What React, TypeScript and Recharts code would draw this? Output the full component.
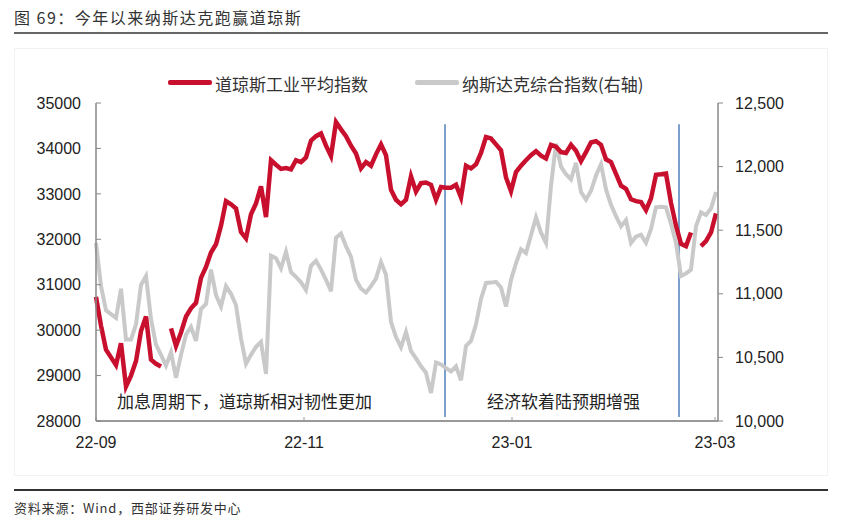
import { ComposedChart, Line, XAxis, YAxis, ReferenceLine } from "recharts";

// x 轴：交易日序号，标签位置
const tickPos = [0, 41.6, 83.2, 123.8];
const tickLabels = ["22-09", "22-11", "23-01", "23-03"];

const leftTicks = [28000, 29000, 30000, 31000, 32000, 33000, 34000, 35000];
const rightTicks = [10000, 10500, 11000, 11500, 12000, 12500];

// 道琼斯工业平均指数（左轴），null 为断点
const dow = [
  30730, 30100, 29570, 29400, 29230, 29710, 28760, 29000, 29320, 29980,
  30300, 29350, 29260, 29200, null, 30040, 29650, 29950, 30300, 30480,
  30600, 31150, 31390, 31710, 31890, 32300, 32840, 32770, 32680, 32160,
  32020, 32550, 32790, 33165, 32490, 33740, 33640, 33550, 33570, 33540,
  33740, 33700, 33800, 34170, 34270, 34330, 34060, 33830, 34580, 34420,
  34270, 34060, 33890, 33560, 33700, 33620, 33870, 34090, 33850, 33090,
  32870, 32770, 32870, 33385, 33050, 33235, 33250, 33200, 32870, 33150,
  33135, 33135, 33200, 32920, 33620, 33560, 33650, 33900, 34250, 34220,
  34090, 33960, 33360, 33060, 33480, 33620, 33740, 33850, 33940, 33840,
  33780, 34080, 34040, 33920, 33900, 34080, 33950, 33720, 33920, 34130,
  34160, 34080, 33760, 33700, 33440, 33180, 33110, 32880, 32840, 32820,
  32640, 32900, 33420, 33430, 33445, 32800, 32300, 31900, 31850, 32150,
  null, 31850, 31960, 32150, 32570,
];

// 纳斯达克综合指数（右轴）
const nasdaq = [
  11400, 11060, 10870, 10840, 10810, 11040, 10640, 10640, 10760, 11070,
  11140, 10800, 10600, 10520, 10435, 10540, 10340, 10520, 10680, 10740,
  10630, 10880, 10920, 11190, 10990, 10900, 11060, 11000, 10910, 10650,
  10450, 10520, 10583, 10622, 10370, 11300, 11280, 11200, 11330, 11170,
  11133, 11090, 11030, 11220, 11260, 11190, 11110, 11020, 11440, 11473,
  11375, 11290, 11110, 11040, 11010, 11060, 11120, 11250, 11150, 10780,
  10660, 10580, 10700, 10550, 10492, 10430, 10380, 10220, 10460, 10445,
  10415, 10390, 10430, 10320, 10590, 10630, 10760, 10960, 11085, 11088,
  11094, 11050, 10900, 11110, 11240, 11350, 11320, 11460, 11600, 11480,
  11400, 11850, 12180, 12000, 11940, 11900, 12030, 11800, 11740, 11810,
  11930, 12020, 11820, 11700, 11610, 11530, 11580, 11400, 11450, 11465,
  11400, 11510, 11680, 11685, 11680, 11550, 11400, 11140, 11160, 11190,
  11530, 11640, 11620, 11670, 11800,
];

// 两条蓝色分隔线（x 序号, 上端, 下端）
const markers = [
  { x: 69.8, top: 34530, bottom: 28090 },
  { x: 116.6, top: 34530, bottom: 28090 },
];

const numFont = "'Liberation Sans', Arial, sans-serif";
const cjkFont = "'Noto Sans CJK SC', sans-serif";

export default function App() {
  const data = dow.map((v, i) => ({ i, dow: v, nasdaq: nasdaq[i] }));
  const tickStyle = { fill: "#222", fontSize: 16, fontFamily: numFont };

  return (
    <div style={{ position: "absolute", left: 0, top: 0, width: 844, height: 523, background: "#fff", fontFamily: cjkFont, color: "#333" }}>
      <div style={{ position: "absolute", left: 14, top: 5, fontSize: 16, letterSpacing: 1.5, whiteSpace: "nowrap" }}>
        图 69：今年以来纳斯达克跑赢道琼斯
      </div>
      <div style={{ position: "absolute", left: 14, top: 32, width: 814, height: 2, background: "#666" }} />
      <div style={{ position: "absolute", left: 14, top: 48, width: 812, height: 426, border: "1px solid #f2f2f2" }} />

      <div style={{ position: "absolute", left: 0, top: 0 }}>
        <ComposedChart width={844} height={523} data={data} margin={{ top: 103, right: 0, bottom: 72, left: 0 }}>
          <XAxis
            dataKey="i"
            type="number"
            domain={[0, 124.4]}
            ticks={tickPos}
            interval={0}
            tickFormatter={(v) => tickLabels[tickPos.indexOf(v)]}
            height={30}
            tickSize={-4}
            tickMargin={20}
            axisLine={{ stroke: "#999", strokeWidth: 2 }}
            tickLine={{ stroke: "#999" }}
            tick={tickStyle}
          />
          <YAxis
            yAxisId="left"
            width={96}
            domain={[28000, 35000]}
            ticks={leftTicks}
            interval={0}
            tickSize={-5}
            tickMargin={20}
            axisLine={{ stroke: "#888", strokeWidth: 1.5 }}
            tickLine={{ stroke: "#888" }}
            tick={tickStyle}
          />
          <YAxis
            yAxisId="right"
            orientation="right"
            width={126}
            domain={[10000, 12500]}
            ticks={rightTicks}
            interval={0}
            tickSize={5}
            tickMargin={12}
            tickFormatter={(v) => v.toLocaleString("en-US")}
            axisLine={{ stroke: "#888", strokeWidth: 1.5 }}
            tickLine={{ stroke: "#888" }}
            tick={tickStyle}
          />
          {markers.map((m, k) => (
            <ReferenceLine
              key={k}
              yAxisId="left"
              segment={[{ x: m.x, y: m.top }, { x: m.x, y: m.bottom }]}
              stroke="#4f81bd"
              strokeWidth={1.5}
            />
          ))}
          <Line yAxisId="right" dataKey="nasdaq" type="linear" stroke="#c9c9c9" strokeWidth={4} dot={false} isAnimationActive={false} />
          <Line yAxisId="left" dataKey="dow" type="linear" stroke="#c8102e" strokeWidth={4.5} dot={false} isAnimationActive={false} />
        </ComposedChart>
      </div>

      {/* 图例 */}
      <div style={{ position: "absolute", left: 168, top: 80, width: 44, height: 5, borderRadius: 2, background: "#c8102e" }} />
      <div style={{ position: "absolute", left: 215, top: 71, fontSize: 17, whiteSpace: "nowrap" }}>道琼斯工业平均指数</div>
      <div style={{ position: "absolute", left: 415, top: 80, width: 44, height: 5, borderRadius: 2, background: "#c9c9c9" }} />
      <div style={{ position: "absolute", left: 462, top: 71, fontSize: 17, whiteSpace: "nowrap" }}>纳斯达克综合指数(右轴)</div>

      {/* 注释 */}
      <div style={{ position: "absolute", left: 117, top: 388, fontSize: 17, whiteSpace: "nowrap", color: "#222" }}>加息周期下，道琼斯相对韧性更加</div>
      <div style={{ position: "absolute", left: 487, top: 388, fontSize: 17, whiteSpace: "nowrap", color: "#222" }}>经济软着陆预期增强</div>

      <div style={{ position: "absolute", left: 14, top: 489, width: 814, height: 2, background: "#333" }} />
      <div style={{ position: "absolute", left: 14, top: 498, fontSize: 13, letterSpacing: 0.8, whiteSpace: "nowrap" }}>
        资料来源：Wind，西部证券研发中心
      </div>
    </div>
  );
}
